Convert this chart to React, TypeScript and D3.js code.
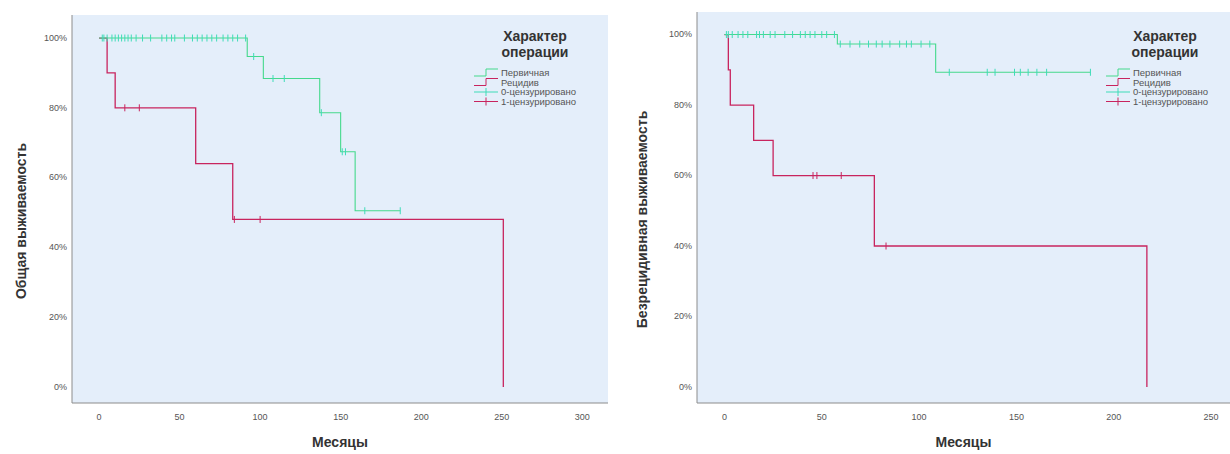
import * as d3 from 'd3';

// Общая выживаемость (OS)
const osPrimaryTimes = [0, 92, 102, 137, 150, 159, 187];
const osPrimarySurv = [100, 94.7, 88.4, 78.6, 67.4, 50.5, 50.5];
const osPrimaryCensored = [2, 3, 5, 8, 10, 12, 14, 16, 18, 20, 23, 27, 32, 39, 42, 45, 47, 53, 58, 61, 64, 67, 70, 73, 77, 80, 83, 86, 91, 96, 108, 115, 138, 151, 153, 165, 187];
const osRecurrenceTimes = [0, 5, 10, 60, 83, 251];
const osRecurrenceSurv = [100, 90, 80, 64, 48, 0];
const osRecurrenceCensored = [16, 25, 84, 100];

// Безрецидивная выживаемость (RFS)
const rfsPrimaryTimes = [0, 58, 108.5, 188];
const rfsPrimarySurv = [100, 97.3, 89.3, 89.3];
const rfsPrimaryCensored = [1, 2, 4, 7, 9.5, 12, 16.5, 18, 20, 23.5, 26, 31, 35, 39, 41.5, 44, 46.5, 50, 52.5, 56.5, 59.5, 64.5, 69.5, 74, 78, 81, 85, 90, 93.5, 96, 101, 105.5, 115.5, 135, 139, 149, 152, 156, 160.5, 165.5, 188];
const rfsRecurrenceTimes = [0, 2, 3, 15, 25, 77, 217];
const rfsRecurrenceSurv = [100, 90, 80, 70, 60, 40, 0];
const rfsRecurrenceCensored = [45.5, 47.5, 60, 83];

const yTicks = [0, 20, 40, 60, 80, 100];
const osXTicks = [0, 50, 100, 150, 200, 250, 300];
const rfsXTicks = [0, 50, 100, 150, 200, 250];

const legendTitle = ['Характер', 'операции'];
const legendLabels = ['Первичная', 'Рецидив', '0-цензурировано', '1-цензурировано'];

const GREEN = '#45d98c';
const RED = '#c8245e';
const CENSOR_GREEN = '#3edcb8';
const FONT = '"Liberation Sans", Arial, sans-serif';

function survAt(times, surv, t) {
  const i = d3.bisectRight(times, t) - 1;
  return surv[Math.max(0, i)];
}

function KMPanel({ frame, xDomain, yDomain, xTicks, yLabel, groups, legend }) {
  const x = d3.scaleLinear().domain(xDomain).range([frame.left, frame.right]);
  const y = d3.scaleLinear().domain(yDomain).range([frame.bottom, frame.top]);
  const line = d3
    .line()
    .x((d) => x(d[0]))
    .y((d) => y(d[1]))
    .curve(d3.curveStepAfter);

  return (
    <g>
      <rect x={frame.left} y={frame.top} width={frame.right - frame.left} height={frame.bottom - frame.top} fill="#e4eefa" />
      <line x1={frame.left} x2={frame.left} y1={frame.top} y2={frame.bottom} stroke="#8c8c8c" />
      <line x1={frame.left} x2={frame.right} y1={frame.bottom} y2={frame.bottom} stroke="#8c8c8c" />

      {yTicks.map((t) => (
        <text key={t} x={frame.left - 5} y={y(t)} dy="0.32em" textAnchor="end" fontSize={9} fill="#555" fontFamily={FONT}>
          {t}%
        </text>
      ))}
      {xTicks.map((t) => (
        <text key={t} x={x(t)} y={frame.bottom + 17} textAnchor="middle" fontSize={9} fill="#555" fontFamily={FONT}>
          {t}
        </text>
      ))}

      <text x={(frame.left + frame.right) / 2} y={frame.bottom + 44} textAnchor="middle" fontSize={14} fontWeight="bold" fill="#333" fontFamily={FONT}>
        Месяцы
      </text>
      <text
        transform={`translate(${frame.yLabelX},${(frame.top + frame.bottom) / 2 + 12}) rotate(-90)`}
        textAnchor="middle"
        fontSize={14}
        fontWeight="bold"
        fill="#333"
        fontFamily={FONT}
      >
        {yLabel}
      </text>

      {groups.map((g) => (
        <g key={g.key}>
          <path d={line(g.times.map((t, i) => [t, g.surv[i]])) || ''} fill="none" stroke={g.color} strokeWidth={g.width} />
          {g.censored.map((t, i) => {
            const cx = x(t);
            const cy = y(survAt(g.times, g.surv, t));
            return <line key={i} x1={cx} x2={cx} y1={cy - 3.5} y2={cy + 3.5} stroke={g.markColor} strokeWidth={1} />;
          })}
        </g>
      ))}

      <g fontFamily={FONT}>
        {legendTitle.map((s, i) => (
          <text key={s} x={legend.titleX} y={36 + i * 16} dy="0.35em" textAnchor="middle" fontSize={14} fontWeight="bold" fill="#333">
            {s}
          </text>
        ))}
        {legendLabels.map((s, i) => {
          const ly = 73 + i * 9.5;
          const sx = legend.symbolX;
          const color = i % 2 === 0 ? (i === 0 ? GREEN : CENSOR_GREEN) : RED;
          return (
            <g key={s}>
              {i < 2 ? (
                <path d={`M${sx},${ly + 3}H${sx + 12}V${ly - 4}H${sx + 24}`} fill="none" stroke={color} strokeWidth={1} />
              ) : (
                <g stroke={color} strokeWidth={1}>
                  <line x1={sx} x2={sx + 24} y1={ly} y2={ly} />
                  <line x1={sx + 12} x2={sx + 12} y1={ly - 4} y2={ly + 4} />
                </g>
              )}
              <text x={sx + 27} y={ly} dy="0.35em" fontSize={9.5} fill="#555">
                {s}
              </text>
            </g>
          );
        })}
      </g>
    </g>
  );
}

export default function App() {
  const osGroups = [
    { key: 'rec', times: osRecurrenceTimes, surv: osRecurrenceSurv, censored: osRecurrenceCensored, color: RED, markColor: RED, width: 1.3 },
    { key: 'prim', times: osPrimaryTimes, surv: osPrimarySurv, censored: osPrimaryCensored, color: GREEN, markColor: CENSOR_GREEN, width: 1.1 }
  ];
  const rfsGroups = [
    { key: 'rec', times: rfsRecurrenceTimes, surv: rfsRecurrenceSurv, censored: rfsRecurrenceCensored, color: RED, markColor: RED, width: 1.3 },
    { key: 'prim', times: rfsPrimaryTimes, surv: rfsPrimarySurv, censored: rfsPrimaryCensored, color: GREEN, markColor: CENSOR_GREEN, width: 1.1 }
  ];

  return (
    <svg width={1230} height={454} style={{ position: 'absolute', left: 0, top: 0, background: '#fff' }}>
      <KMPanel
        frame={{ left: 72, right: 608, top: 15, bottom: 403, yLabelX: 26 }}
        xDomain={[-16.8, 316]}
        yDomain={[-4.6, 106.6]}
        xTicks={osXTicks}
        yLabel="Общая выживаемость"
        groups={osGroups}
        legend={{ titleX: 535, symbolX: 474 }}
      />
      <KMPanel
        frame={{ left: 697, right: 1230, top: 12, bottom: 403, yLabelX: 647 }}
        xDomain={[-14.1, 259.7]}
        yDomain={[-4.54, 106.4]}
        xTicks={rfsXTicks}
        yLabel="Безрецидивная выживаемость"
        groups={rfsGroups}
        legend={{ titleX: 1165, symbolX: 1106 }}
      />
    </svg>
  );
}
